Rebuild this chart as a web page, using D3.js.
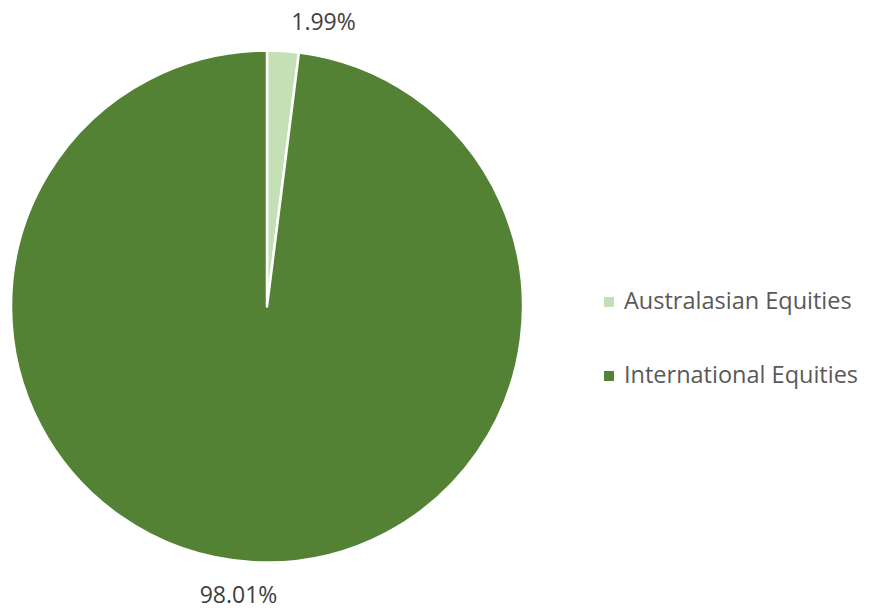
<!DOCTYPE html>
<html>
<head>
<meta charset="utf-8">
<script src="https://cdn.jsdelivr.net/npm/d3@7"></script>
<style>
  body { margin: 0; background: #fff; }
  svg { display: block; }
</style>
</head>
<body>
<svg width="869" height="610"></svg>
<script>
// данные диаграммы
const categories = ["Australasian Equities", "International Equities"];
const shares = [1.99, 98.01];
const labels = ["1.99%", "98.01%"];
const colors = ["#C5E0B4", "#548235"];

const svg = d3.select("svg");
const fontFam = "'Open Sans', 'Liberation Sans', sans-serif";

const cx = 267, cy = 306.5, radius = 256;

const data = categories.map((c, i) => ({ name: c, value: shares[i], label: labels[i], color: colors[i] }));

const pie = d3.pie().value(d => d.value).sort(null);
const arc = d3.arc().innerRadius(0).outerRadius(radius);
const arcs = pie(data);

const g = svg.append("g").attr("transform", `translate(${cx}, ${cy})`);

g.selectAll("path")
    .data(arcs)
    .enter()
    .append("path")
    .attr("d", arc)
    .style("fill", d => d.data.color)
    .style("stroke", "#fff")
    .style("stroke-width", 2.5)
    .style("stroke-linejoin", "round");

// подписи процентов снаружи (смещения подобраны по картинке)
const labelPos = [[56.5, -276.5], [-28.5, 296.5]];
g.selectAll(".pct")
    .data(arcs)
    .enter()
    .append("text")
    .attr("class", "pct")
    .attr("x", (d, i) => labelPos[i][0])
    .attr("y", (d, i) => labelPos[i][1])
    .attr("text-anchor", "middle")
    .style("font-family", fontFam)
    .style("font-size", "23px")
    .style("fill", "#404040")
    .text(d => d.data.label);

// легенда
const legend = svg.append("g").attr("transform", "translate(604, 297)");
const item = legend.selectAll("g")
    .data(data)
    .enter()
    .append("g")
    .attr("transform", (d, i) => `translate(0, ${i * 74})`);

item.append("rect")
    .attr("width", 10)
    .attr("height", 10)
    .style("fill", d => d.color);

item.append("text")
    .attr("x", 20)
    .attr("y", 12)
    .style("font-family", fontFam)
    .style("font-size", "23.5px")
    .style("fill", "#595959")
    .text(d => d.name);
</script>
</body>
</html>
